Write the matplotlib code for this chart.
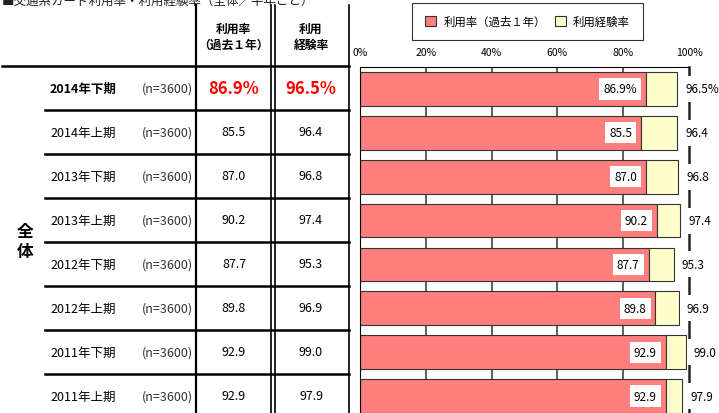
import matplotlib
matplotlib.use("Agg")
import matplotlib.pyplot as plt
import numpy as np

plt.rcParams['font.family'] = ['Noto Sans CJK JP', 'DejaVu Sans']

periods = ['2014年下期', '2014年上期', '2013年下期', '2013年上期',
           '2012年下期', '2012年上期', '2011年下期', '2011年上期']
n_labels = ['(n=3600)'] * 8
use_rate = [86.9, 85.5, 87.0, 90.2, 87.7, 89.8, 92.9, 92.9]
exp_rate = [96.5, 96.4, 96.8, 97.4, 95.3, 96.9, 99.0, 97.9]
xticks = [0, 20, 40, 60, 80, 100]
legend_labels = ['利用率（過去１年）', '利用経験率']

PINK = '#FF7F7F'
YELLOW = '#FFFFCC'

W, H = 719, 414
fig = plt.figure(figsize=(W / 100, H / 100), dpi=100)

# background axes in pixel coords for the table part
bg = fig.add_axes([0, 0, 1, 1])
bg.set_xlim(0, W)
bg.set_ylim(H, 0)
bg.axis('off')

top = 67
row_h = 44

# title (cut off at the top in the source image)
bg.text(2, 8, '■交通系カード利用率・利用経験率（全体／半年ごと）', fontsize=9,
        va='bottom', ha='left', color='#222222')

# table lines
bg.plot([196, 196], [6, H], color='black', lw=1.6)
bg.plot([271, 271], [6, H], color='black', lw=1.2)
bg.plot([274.5, 274.5], [6, H], color='black', lw=1.2)
bg.plot([348.5, 348.5], [6, H], color='black', lw=1.2)
bg.plot([2, 349], [top, top], color='black', lw=1.8)
for i in range(1, 8):
    yy = top + row_h * i
    bg.plot([45, 349], [yy, yy], color='black', lw=1.8)

# headers
bg.text(233, 37, '利用率\n（過去１年）', fontsize=8.5, fontweight='bold',
        ha='center', va='center', linespacing=1.3)
bg.text(311, 37, '利用\n経験率', fontsize=8.5, fontweight='bold',
        ha='center', va='center', linespacing=1.3)

# group label
bg.text(25, 232, '全', fontsize=12, fontweight='bold', ha='center', va='center')
bg.text(25, 252, '体', fontsize=12, fontweight='bold', ha='center', va='center')

for i in range(8):
    yc = top + row_h * i + 22
    if i == 0:
        bg.text(50, yc, periods[i], fontsize=9, fontweight='bold', ha='left', va='center')
        bg.text(234, yc, f'{use_rate[i]:.1f}%', fontsize=12, fontweight='bold',
                color='red', ha='center', va='center')
        bg.text(311, yc, f'{exp_rate[i]:.1f}%', fontsize=12, fontweight='bold',
                color='red', ha='center', va='center')
    else:
        bg.text(50, yc, periods[i], fontsize=9, ha='left', va='center')
        bg.text(234, yc, f'{use_rate[i]:.1f}', fontsize=9, ha='center', va='center')
        bg.text(311, yc, f'{exp_rate[i]:.1f}', fontsize=9, ha='center', va='center')
    bg.text(193, yc, n_labels[i], fontsize=9, ha='right', va='center', color='#333333')

# bar chart axes (extends slightly below the figure, as in the cropped source)
x0, x1 = 360, 689
ax_top = 68
ax_bot = top + row_h * 8
ax = fig.add_axes([x0 / W, (H - ax_bot) / H, (x1 - x0) / W, (ax_bot - ax_top) / H])
ax.patch.set_alpha(0)

y = np.arange(len(periods))
use = np.array(use_rate)
exp = np.array(exp_rate)
b1 = ax.barh(y, use, height=0.77, color=PINK, edgecolor='#333333', lw=0.8, zorder=2)
b2 = ax.barh(y, exp - use, left=use, height=0.77, color=YELLOW,
             edgecolor='#333333', lw=0.8, zorder=2)

ax.set_xlim(0, 100)
ax.set_ylim(len(periods) - 0.5, -0.5)
ax.set_yticks([])
ax.xaxis.tick_top()
ax.set_xticks(xticks)
ax.set_xticklabels([f'{t}%' for t in xticks], fontsize=7.5)
ax.tick_params(axis='x', length=0, pad=7)
for t in xticks[1:-1]:
    ax.axvline(t, color='#333333', lw=1.1, zorder=1)
ax.spines['bottom'].set_visible(False)
ax.spines['top'].set_linewidth(0.8)
ax.spines['left'].set_linewidth(0.8)
ax.spines['right'].set_linewidth(1.8)
ax.spines['right'].set_color('#222222')

for i in range(len(periods)):
    s_in = f'{use_rate[i]:.1f}%' if i == 0 else f'{use_rate[i]:.1f}'
    s_out = f'{exp_rate[i]:.1f}%' if i == 0 else f'{exp_rate[i]:.1f}'
    ax.annotate(s_in, (use[i], y[i]), xytext=(-9, 0), textcoords='offset pixels',
                ha='right', va='center', fontsize=8.5, zorder=5,
                bbox=dict(boxstyle='square,pad=0.35', fc='white', ec='none'))
    ax.annotate(s_out, (exp[i], y[i]), xytext=(8, 0), textcoords='offset pixels',
                ha='left', va='center', fontsize=8.5, zorder=5,
                bbox=dict(boxstyle='square,pad=0.55', fc='white', ec='none'))

leg = fig.legend([b1, b2], legend_labels, loc='upper left',
                 bbox_to_anchor=(412 / W, 1 - 4 / H), ncol=2, fontsize=8.2,
                 frameon=True, fancybox=False, edgecolor='black',
                 handlelength=1.0, handleheight=1.0, columnspacing=0.8,
                 handletextpad=0.6, borderpad=1.15, borderaxespad=0)
leg.get_frame().set_linewidth(0.8)

fig.savefig('out.png', dpi=100)
